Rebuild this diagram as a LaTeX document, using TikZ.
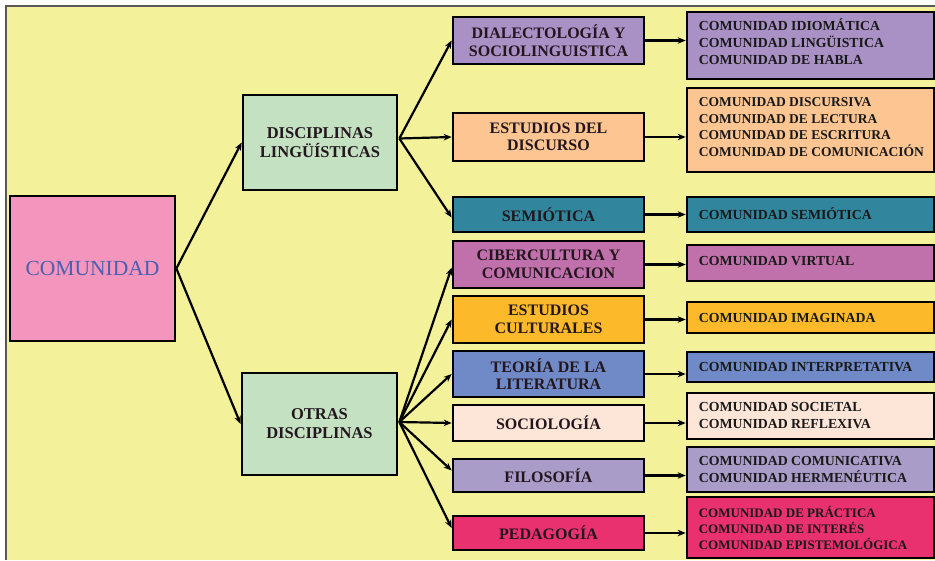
\documentclass[tikz,border=0pt]{standalone}
\usepackage{fontspec}
\setmainfont{Liberation Serif}
\usetikzlibrary{arrows.meta,calc}
\definecolor{bgyellow}{HTML}{F3F199}
\definecolor{cpink}{HTML}{F495BE}
\definecolor{cgreen}{HTML}{C4E1C2}
\definecolor{cpurple}{HTML}{A991C5}
\definecolor{cpeach}{HTML}{FCC592}
\definecolor{cteal}{HTML}{31859C}
\definecolor{cmagenta}{HTML}{C071AB}
\definecolor{corange}{HTML}{FCBA2B}
\definecolor{cblue}{HTML}{6F8AC6}
\definecolor{ccream}{HTML}{FDE6D8}
\definecolor{clav}{HTML}{A99CC9}
\definecolor{ccrimson}{HTML}{E9316F}
\definecolor{ctitle}{HTML}{4B5FAE}
\definecolor{ctxt}{HTML}{24161E}
\begin{document}
\begin{tikzpicture}[x=1pt,y=-1pt,
  box/.style={draw=black, line width=2.7pt, inner sep=0pt},
  mid/.style={box, minimum width=191pt, align=center, text=ctxt,
    font=\fontsize{16}{17.5}\selectfont\bfseries},
  rbox/.style={box, minimum width=247pt},
  rtext/.style={anchor=west, inner sep=0pt, align=left, text=black!90,
    font=\fontsize{13.8}{17}\selectfont\bfseries},
  arr/.style={line width=2.2pt, -{Stealth[length=8pt,width=6.5pt]}}]
\useasboundingbox (0,0) rectangle (935,560);
\fill[bgyellow] (6,6) rectangle (935,560);
\draw[line width=1.5pt, draw=black!65] (6,560) -- (6,6) -- (935,6);

% root
\node[box, fill=cpink, minimum width=165pt, minimum height=145pt, text=ctitle,
  font=\fontsize{21.5}{24}\selectfont] (com) at (92.5,268.5) {COMUNIDAD};

% second level
\node[box, fill=cgreen, minimum width=154pt, minimum height=95pt, align=center,
  text=ctxt, font=\fontsize{16.5}{19}\selectfont\bfseries] (dl) at (320,142.5)
  {DISCIPLINAS\\LINGÜÍSTICAS};
\node[box, fill=cgreen, minimum width=155pt, minimum height=102pt, align=center,
  text=ctxt, font=\fontsize{16.5}{19}\selectfont\bfseries] (od) at (319.5,424)
  {OTRAS\\DISCIPLINAS};

% middle column
\node[mid, fill=cpurple, minimum height=47pt] (dial) at (548.5,40.5) {DIALECTOLOGÍA Y\\SOCIOLINGUISTICA};
\node[mid, fill=cpeach, minimum height=48pt] (edd) at (548.5,137) {ESTUDIOS DEL\\DISCURSO};
\node[mid, fill=cteal, minimum height=35pt] (sem) at (548.5,214.5) {SEMIÓTICA};
\node[mid, fill=cmagenta, minimum height=47pt] (cib) at (548.5,264.5) {CIBERCULTURA Y\\COMUNICACION};
\node[mid, fill=corange, minimum height=47pt] (ecu) at (548.5,319.5) {ESTUDIOS\\CULTURALES};
\node[mid, fill=cblue, minimum height=46pt] (teo) at (548.5,374) {TEORÍA DE LA\\LITERATURA};
\node[mid, fill=ccream, minimum height=36pt] (soc) at (548.5,423) {SOCIOLOGÍA};
\node[mid, fill=clav, minimum height=33pt] (fil) at (548.5,475.5) {FILOSOFÍA};
\node[mid, fill=ccrimson, minimum height=34pt] (ped) at (548.5,533) {PEDAGOGÍA};

% right column boxes
\node[rbox, fill=cpurple, minimum height=67pt] (r1) at (810.5,45.5) {};
\node[rbox, fill=cpeach, minimum height=84pt] (r2) at (810.5,130) {};
\node[rbox, fill=cteal, minimum height=35pt] (r3) at (810.5,214.5) {};
\node[rbox, fill=cmagenta, minimum height=36pt] (r4) at (810.5,263) {};
\node[rbox, fill=corange, minimum height=31pt] (r5) at (810.5,317.5) {};
\node[rbox, fill=cblue, minimum height=30pt] (r6) at (810.5,367) {};
\node[rbox, fill=ccream, minimum height=46pt] (r7) at (810.5,416) {};
\node[rbox, fill=clav, minimum height=45pt] (r8) at (810.5,469.5) {};
\node[rbox, fill=ccrimson, minimum height=61pt] (r9) at (810.5,527.5) {};

% right column texts
\node[rtext] (t1) at ($(r1.west)+(13,-4)$) {COMUNIDAD IDIOMÁTICA\\COMUNIDAD LINGÜISTICA\\COMUNIDAD DE HABLA};
\node[rtext, font=\fontsize{13.5}{16.5}\selectfont\bfseries] (t2) at ($(r2.west)+(13,-3)$) {COMUNIDAD  DISCURSIVA\\COMUNIDAD DE LECTURA\\COMUNIDAD DE ESCRITURA\\COMUNIDAD  DE COMUNICACIÓN};
\node[rtext] (t3) at ($(r3.west)+(13,-1)$) {COMUNIDAD SEMIÓTICA};
\node[rtext] (t4) at ($(r4.west)+(13,-2)$) {COMUNIDAD VIRTUAL};
\node[rtext] (t5) at ($(r5.west)+(13,0)$) {COMUNIDAD IMAGINADA};
\node[rtext] (t6) at ($(r6.west)+(13,0)$) {COMUNIDAD INTERPRETATIVA};
\node[rtext] (t7) at ($(r7.west)+(13,0)$) {COMUNIDAD SOCIETAL\\COMUNIDAD REFLEXIVA};
\node[rtext] (t8) at ($(r8.west)+(13,0)$) {COMUNIDAD COMUNICATIVA\\COMUNIDAD HERMENÉUTICA};
\node[rtext, font=\fontsize{13}{16}\selectfont\bfseries] (t9) at ($(r9.west)+(13,0)$) {COMUNIDAD  DE PRÁCTICA\\COMUNIDAD  DE INTERÉS\\COMUNIDAD  EPISTEMOLÓGICA};

% connector origins
\coordinate (dlo) at ($(dl.east)+(1,-4)$);
\coordinate (odo) at ($(od.east)+(1,-2)$);

% connectors
\draw[arr] (com.east) -- (dl.west);
\draw[arr] (com.east) -- (od.west);
\draw[arr] (dlo) -- (dial.west);
\draw[arr] (dlo) -- (edd.west);
\draw[arr] (dlo) -- ($(sem.west)+(0,3)$);
\draw[arr] (odo) -- ($(cib.west)+(0,3)$);
\draw[arr] (odo) -- (ecu.west);
\draw[arr] (odo) -- (teo.west);
\draw[arr] (odo) -- (soc.west);
\draw[arr] (odo) -- ($(fil.west)+(0,-5)$);
\draw[arr] (odo) -- ($(ped.west)+(0,-5)$);
\foreach \m/\r in {dial/r1,edd/r2,sem/r3,cib/r4,ecu/r5,teo/r6,soc/r7,fil/r8,ped/r9}
  \draw[arr] (\m.east) -- (\m.east -| \r.west);
\end{tikzpicture}
\end{document}
